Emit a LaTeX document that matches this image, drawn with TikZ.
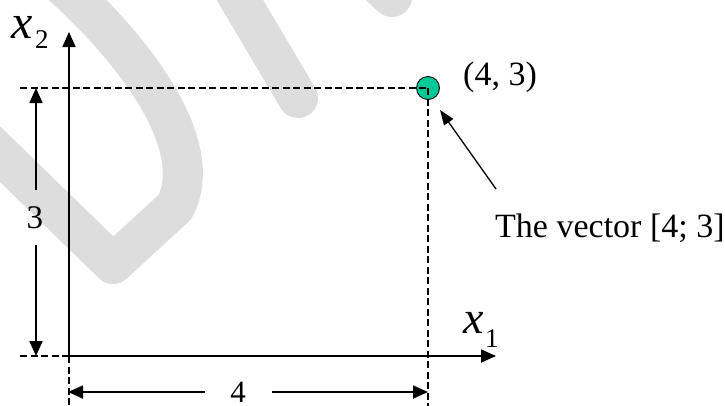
\documentclass[tikz,border=0pt]{standalone}
\usepackage{fontspec}
\setmainfont{Liberation Serif}
\usetikzlibrary{arrows.meta}
\definecolor{wmgray}{RGB}{221,221,221}
\definecolor{ptgreen}{RGB}{0,200,150}
\tikzset{
  wmark/.style={draw=wmgray, line width=40pt, line cap=round, line join=round},
  axisline/.style={line width=1.8pt, -{Triangle[length=15pt,width=13pt]}},
  dimline/.style={line width=1.8pt, -{Triangle[length=15pt,width=13pt]}},
  guide/.style={line width=1.5pt, dash pattern=on 7pt off 3.5pt},
  guidev/.style={line width=1.1pt, dash pattern=on 7pt off 3.5pt},
  pointer/.style={line width=1.3pt, -{Triangle[length=15pt,width=11pt]}},
  lbl/.style={inner sep=0pt, font=\fontsize{33}{38}\selectfont},
}
\begin{document}
\begin{tikzpicture}[x=1pt, y=-1pt]
\useasboundingbox (0,0) rectangle (725,405);
\begin{scope}
\clip (0,0) rectangle (725,405);
% watermark
\draw[wmark] (62,-15) .. controls (145,60) and (205,150) .. (175,207) -- (113,264) -- (-30,125);
\draw[wmark] (228,-20) -- (298,98);
\draw[wmark] (330,-60) -- (392,-3);
% coordinates
\coordinate (O) at (69,356);
\coordinate (x2end) at (69,32);
\coordinate (x1end) at (496,356);
\coordinate (hl) at (20,88);
\coordinate (bl) at (20,356);
\coordinate (vb) at (428,410);
\coordinate (ob) at (69,410);
% point
\node[circle, draw=black, line width=0.9pt, fill=ptgreen, minimum size=23pt, inner sep=0pt] (P) at (428,88) {};
\draw[guide] (hl) -- (P.center);
\draw[guidev] (P.center) -- (vb);
\draw[guide] (bl) -- (O);
\draw[guidev] (O) -- (ob);
% axes
\draw[axisline] (O) -- (x2end);
\draw[axisline] (O) -- (x1end);
\end{scope}
% axis labels
\node[anchor=base west, inner sep=0pt, font=\fontsize{48}{52}\selectfont\itshape] (x2l) at (11,38) {x};
\node[anchor=base west, inner sep=0pt, font=\fontsize{27}{30}\selectfont] (x2s) at (35,48) {2};
\node[anchor=base west, inner sep=0pt, font=\fontsize{46}{50}\selectfont\itshape] (x1l) at (463,333) {x};
\node[anchor=base west, inner sep=0pt, font=\fontsize{27}{30}\selectfont] (x1s) at (485,347) {1};
% dimension 3
\node[lbl] (three) at (35,218) {3};
\coordinate (d3top) at (36,88);
\coordinate (d3bot) at (36,356);
\coordinate (d3a) at (36,190);
\coordinate (d3b) at (36,245);
\draw[dimline] (d3a) -- (d3top);
\draw[dimline] (d3b) -- (d3bot);
% dimension 4
\node[inner sep=0pt, font=\fontsize{31}{34}\selectfont, anchor=south] (four) at (238,403) {4};
\coordinate (d4l) at (68,392);
\coordinate (d4r) at (428,392);
\coordinate (d4a) at (205,392);
\coordinate (d4b) at (272,392);
\draw[dimline] (d4a) -- (d4l);
\draw[dimline] (d4b) -- (d4r);
% labels
\node[anchor=base west, inner sep=0pt, font=\fontsize{34}{40}\selectfont] (pt) at (463,85) {(4, 3)};
\node[anchor=base west, inner sep=0pt, font=\fontsize{34}{40}\selectfont] (vec) at (495,237) {The vector [4; 3]};
\coordinate (pstart) at (496,189);
\coordinate (ptip) at (440,110);
\draw[pointer] (pstart) -- (ptip);
\end{tikzpicture}
\end{document}
